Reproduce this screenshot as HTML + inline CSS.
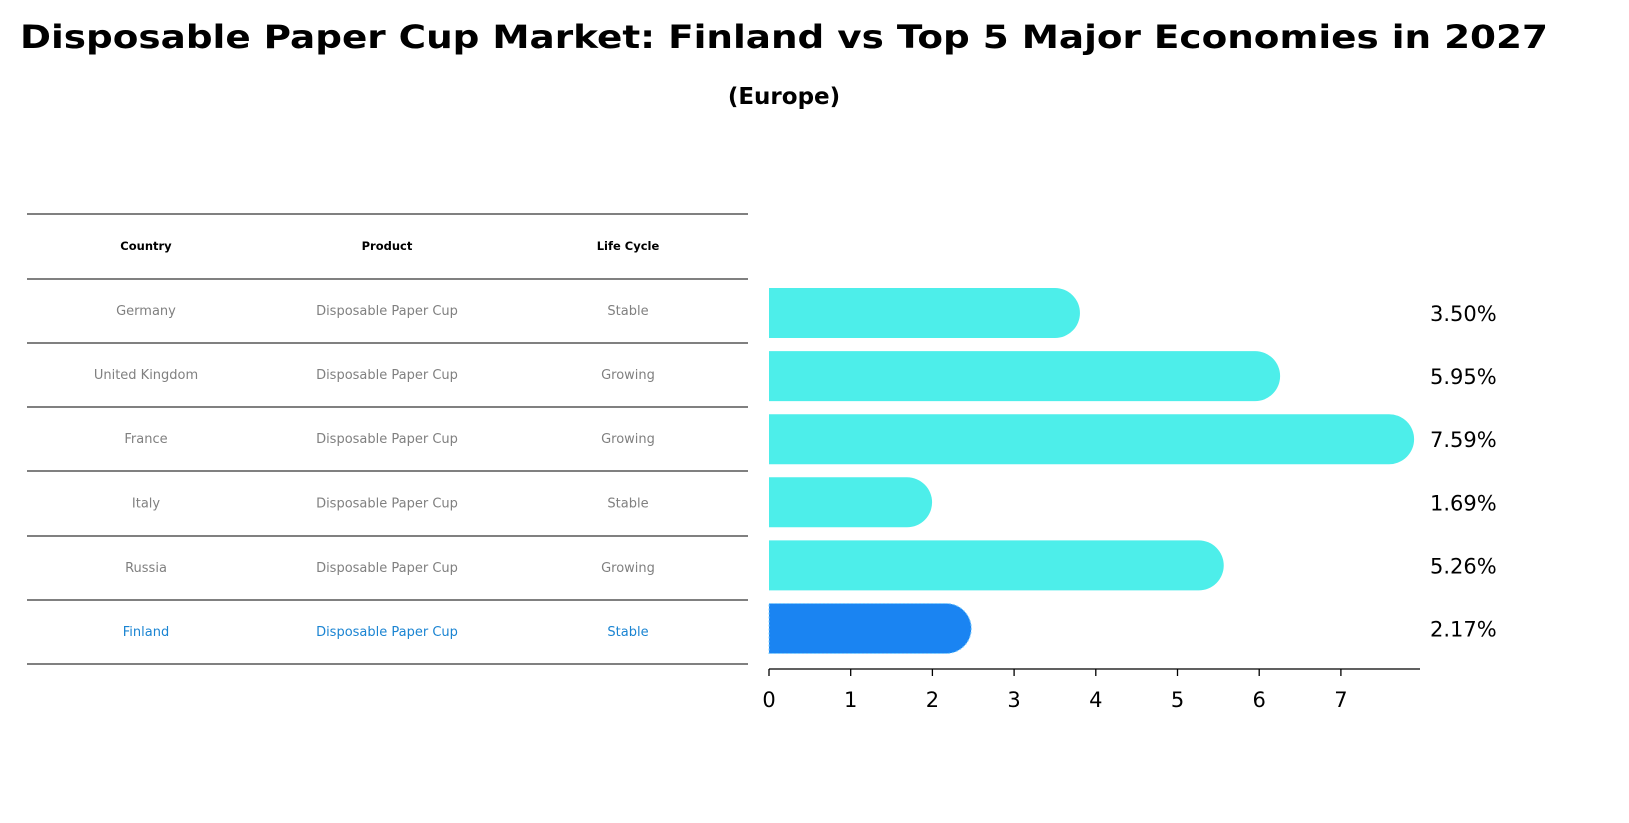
<!DOCTYPE html>
<html><head><meta charset="utf-8"><style>
html,body{margin:0;padding:0;background:#fff;overflow:hidden;width:1629px;height:823px;}
svg{display:block;}
svg text{font-family:"DejaVu Sans","Liberation Sans",sans-serif;}
</style></head><body>
<svg id="chart" width="1629" height="823" viewBox="0 0 1629 823">
<text x="784" y="48" text-anchor="middle" font-size="32" font-weight="bold" textLength="1528" lengthAdjust="spacingAndGlyphs">Disposable Paper Cup Market: Finland vs Top 5 Major Economies in 2027</text>
<text x="784" y="104" text-anchor="middle" font-size="23" font-weight="bold">(Europe)</text>
<g id="table"></g>
<g id="bars"></g>
</svg>
<script>
const countries=["Germany","United Kingdom","France","Italy","Russia","Finland"];
const products=["Disposable Paper Cup","Disposable Paper Cup","Disposable Paper Cup","Disposable Paper Cup","Disposable Paper Cup","Disposable Paper Cup"];
const lifeCycles=["Stable","Growing","Growing","Stable","Growing","Stable"];
const values=[3.50,5.95,7.59,1.69,5.26,2.17];
const ticks=[0,1,2,3,4,5,6,7];
const NS="http://www.w3.org/2000/svg";
function mk(tag,attrs,parent,text){const e=document.createElementNS(NS,tag);for(const k in attrs)e.setAttribute(k,attrs[k]);if(text!==undefined)e.textContent=text;parent.appendChild(e);return e;}
const tbl=document.getElementById('table');
const lines=[214,279,343,407,471,536,600,664];
lines.forEach(y=>{const l=mk('line',{x1:27,x2:748,y1:y,y2:y,stroke:'#000','stroke-width':1},tbl);

});
const colX=[146,387,628];
["Country","Product","Life Cycle"].forEach((h,i)=>{const t=mk('text',{x:colX[i],y:250,'text-anchor':'middle','font-size':11.5,'font-weight':'bold'},tbl,h);

});
countries.forEach((c,r)=>{const y=(lines[r+1]+lines[r+2])/2+4;const col=c==="Finland"?'#1a84d2':'#808080';
[c,products[r],lifeCycles[r]].forEach((v,i)=>{const t=mk('text',{x:colX[i],y:y,'text-anchor':'middle','font-size':13,fill:col},tbl,v);

});});
const bars=document.getElementById('bars');
const x0=769,scale=81.7;const xs=v=>x0+v*scale;
const yc=i=>313+i*63.1;const h=50,r=25;
values.forEach((v,i)=>{const fin=countries[i]==="Finland";const col=fin?'#1a84f2':'#4deeea';
const xe=xs(v),top=yc(i)-h/2;
const p=mk('path',{d:`M${x0},${top} H${xe} A${r},${r} 0 0 1 ${xe},${top+h} H${x0} Z`,fill:col},bars);
if(fin){p.setAttribute('stroke','#7fd0ff');p.setAttribute('stroke-dasharray','2,2');p.setAttribute('stroke-width','1');}


const t=mk('text',{x:1430,y:yc(i)+8,'font-size':21},bars,v.toFixed(2)+'%');

});
const ax=mk('line',{x1:x0,x2:1420,y1:669,y2:669,stroke:'#000','stroke-width':1.3},bars);


ticks.forEach(tv=>{const x=xs(tv);const tk=mk('line',{x1:x,x2:x,y1:669,y2:676,stroke:'#000','stroke-width':1.3},bars);


const tl=mk('text',{x:x,y:707,'text-anchor':'middle','font-size':21},bars,String(tv));

});
</script>
</body></html>
